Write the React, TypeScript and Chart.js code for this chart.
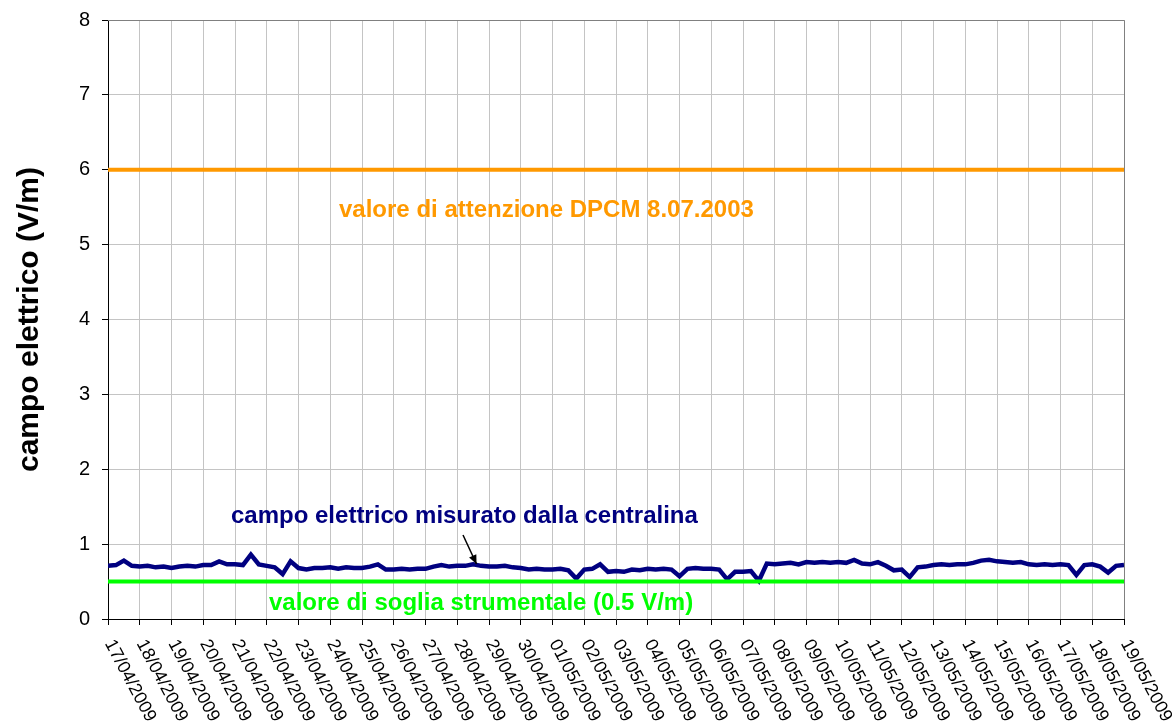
import React, { useEffect, useRef } from "react";
import { Chart, registerables } from "chart.js";

Chart.register(...registerables);

// ---- data ----
const DATE_LABELS: string[] = [
  "17/04/2009", "18/04/2009", "19/04/2009", "20/04/2009", "21/04/2009", "22/04/2009",
  "23/04/2009", "24/04/2009", "25/04/2009", "26/04/2009", "27/04/2009", "28/04/2009",
  "29/04/2009", "30/04/2009", "01/05/2009", "02/05/2009", "03/05/2009", "04/05/2009",
  "05/05/2009", "06/05/2009", "07/05/2009", "08/05/2009", "09/05/2009", "10/05/2009",
  "11/05/2009", "12/05/2009", "13/05/2009", "14/05/2009", "15/05/2009", "16/05/2009",
  "17/05/2009", "18/05/2009", "19/05/2009",
];

const SAMPLES_PER_DAY = 4;

// measured electric field (V/m), 6-hourly readings starting 17/04/2009
const MEASURED_VALUES: number[] = [
  0.71, 0.72, 0.78, 0.71,
  0.70, 0.71, 0.69, 0.70,
  0.68, 0.70, 0.71, 0.70,
  0.72, 0.72, 0.77, 0.73,
  0.73, 0.72, 0.86, 0.73,
  0.71, 0.69, 0.60, 0.77,
  0.68, 0.66, 0.68, 0.68,
  0.69, 0.67, 0.69, 0.68,
  0.68, 0.70, 0.73, 0.66,
  0.66, 0.67, 0.66, 0.67,
  0.67, 0.70, 0.72, 0.70,
  0.71, 0.71, 0.73, 0.71,
  0.70, 0.70, 0.71, 0.69,
  0.68, 0.66, 0.67, 0.66,
  0.66, 0.67, 0.65, 0.54,
  0.66, 0.67, 0.73, 0.63,
  0.64, 0.63, 0.66, 0.65,
  0.67, 0.66, 0.67, 0.66,
  0.57, 0.67, 0.68, 0.67,
  0.67, 0.66, 0.53, 0.63,
  0.63, 0.64, 0.51, 0.74,
  0.73, 0.74, 0.75, 0.73,
  0.76, 0.75, 0.76, 0.75,
  0.76, 0.75, 0.79, 0.74,
  0.73, 0.76, 0.71, 0.65,
  0.66, 0.56, 0.69, 0.70,
  0.72, 0.73, 0.72, 0.73,
  0.73, 0.75, 0.78, 0.79,
  0.77, 0.76, 0.75, 0.76,
  0.73, 0.72, 0.73, 0.72,
  0.73, 0.72, 0.59, 0.72,
  0.73, 0.70, 0.62, 0.71,
  0.72,
];

const ATTENTION_VALUE = 6; // valore di attenzione DPCM 8.07.2003
const THRESHOLD_VALUE = 0.5; // valore di soglia strumentale

const Y_MIN = 0;
const Y_MAX = 8;

const Y_TITLE = "campo elettrico (V/m)";
const LABEL_ATTENTION = "valore di attenzione DPCM 8.07.2003";
const LABEL_MEASURED = "campo elettrico misurato dalla centralina";
const LABEL_THRESHOLD = "valore di soglia strumentale (0.5 V/m)";

// ---- styles ----
const FONT = 'Arial, "Liberation Sans", sans-serif';
const NAVY = "#000080";
const ORANGE = "#FF9900";
const GREEN = "#00FF00";
const GRID = "#c4c4c4";

const overlayPlugin = {
  id: "overlay",
  afterDatasetsDraw(chart: any) {
    const { ctx, chartArea } = chart;
    ctx.save();
    // plot frame (top/right)
    ctx.strokeStyle = "#808080";
    ctx.lineWidth = 1;
    ctx.beginPath();
    ctx.moveTo(chartArea.left, Math.round(chartArea.top) + 0.5);
    ctx.lineTo(Math.round(chartArea.right) + 0.5, Math.round(chartArea.top) + 0.5);
    ctx.lineTo(Math.round(chartArea.right) + 0.5, chartArea.bottom);
    ctx.stroke();

    // annotations
    ctx.font = `bold 24px ${FONT}`;
    ctx.textAlign = "left";
    ctx.textBaseline = "alphabetic";
    ctx.fillStyle = ORANGE;
    ctx.fillText(LABEL_ATTENTION, 339, 217);
    ctx.fillStyle = NAVY;
    ctx.fillText(LABEL_MEASURED, 231, 523);
    ctx.fillStyle = GREEN;
    ctx.fillText(LABEL_THRESHOLD, 269, 610);

    // arrow
    const x1 = 463, y1 = 535, x2 = 476.5, y2 = 564;
    ctx.strokeStyle = "#000";
    ctx.fillStyle = "#000";
    ctx.lineWidth = 1.5;
    ctx.beginPath();
    ctx.moveTo(x1, y1);
    ctx.lineTo(x2, y2);
    ctx.stroke();
    const ang = Math.atan2(y2 - y1, x2 - x1);
    const hl = 9, hw = 4;
    ctx.beginPath();
    ctx.moveTo(x2, y2);
    ctx.lineTo(x2 - hl * Math.cos(ang) + hw * Math.sin(ang), y2 - hl * Math.sin(ang) - hw * Math.cos(ang));
    ctx.lineTo(x2 - hl * Math.cos(ang) - hw * Math.sin(ang), y2 - hl * Math.sin(ang) + hw * Math.cos(ang));
    ctx.closePath();
    ctx.fill();
    ctx.restore();
  },
  afterDraw(chart: any) {
    const { ctx, chartArea, scales } = chart;
    const xs = scales.x;
    ctx.save();
    // rotated date labels
    ctx.font = `18px ${FONT}`;
    ctx.fillStyle = "#000";
    ctx.textAlign = "left";
    ctx.textBaseline = "middle";
    DATE_LABELS.forEach((lab, i) => {
      const px = xs.getPixelForValue(i);
      ctx.save();
      ctx.translate(px + 1, chartArea.bottom + 22);
      ctx.rotate((62 * Math.PI) / 180);
      ctx.fillText(lab, 0, 0);
      ctx.restore();
    });
    // y title
    ctx.font = `bold 30px ${FONT}`;
    ctx.textAlign = "center";
    ctx.textBaseline = "alphabetic";
    ctx.translate(38, (chartArea.top + chartArea.bottom) / 2);
    ctx.rotate(-Math.PI / 2);
    ctx.fillText(Y_TITLE, 0, 0);
    ctx.restore();
  },
};

export default function App() {
  const ref = useRef<HTMLCanvasElement | null>(null);

  useEffect(() => {
    if (!ref.current) return;
    const lastDay = DATE_LABELS.length - 1;
    const measured = MEASURED_VALUES.map((v, i) => ({ x: i / SAMPLES_PER_DAY, y: v }));
    const chart = new Chart(ref.current, {
      type: "line",
      data: {
        datasets: [
          {
            label: LABEL_ATTENTION,
            data: [
              { x: 0, y: ATTENTION_VALUE },
              { x: lastDay, y: ATTENTION_VALUE },
            ],
            borderColor: ORANGE,
            borderWidth: 4,
            pointRadius: 0,
          },
          {
            label: LABEL_THRESHOLD,
            data: [
              { x: 0, y: THRESHOLD_VALUE },
              { x: lastDay, y: THRESHOLD_VALUE },
            ],
            borderColor: GREEN,
            borderWidth: 4,
            pointRadius: 0,
          },
          {
            label: LABEL_MEASURED,
            data: measured,
            borderColor: NAVY,
            borderWidth: 4.5,
            pointRadius: 0,
            tension: 0,
          },
        ],
      },
      options: {
        responsive: false,
        animation: false,
        devicePixelRatio: 1,
        layout: { padding: { left: 0, top: 20, right: 48, bottom: 0 } },
        plugins: { legend: { display: false }, tooltip: { enabled: false } },
        scales: {
          x: {
            type: "linear",
            min: 0,
            max: lastDay,
            ticks: { stepSize: 1, display: false, autoSkip: false },
            grid: { color: GRID, tickColor: "#000", tickLength: 6, lineWidth: 1 },
            border: { color: "#000", width: 1 },
            afterFit: (s: any) => {
              s.height = 107;
              s.paddingLeft = 0;
              s.paddingRight = 0;
            },
          },
          y: {
            min: Y_MIN,
            max: Y_MAX,
            ticks: {
              stepSize: 1,
              color: "#000",
              padding: 12,
              font: { size: 20, family: FONT },
            },
            grid: { color: GRID, tickColor: "#000", tickLength: 6, lineWidth: 1 },
            border: { color: "#000", width: 1 },
            afterFit: (s: any) => {
              s.width = 108;
              s.paddingTop = 0;
              s.paddingBottom = 0;
            },
          },
        },
      },
      plugins: [overlayPlugin],
    });
    return () => chart.destroy();
  }, []);

  return (
    <div style={{ position: "absolute", left: 0, top: 0, width: 1172, height: 726, background: "#fff" }}>
      <canvas ref={ref} width={1172} height={726} style={{ width: 1172, height: 726, display: "block" }} />
    </div>
  );
}
